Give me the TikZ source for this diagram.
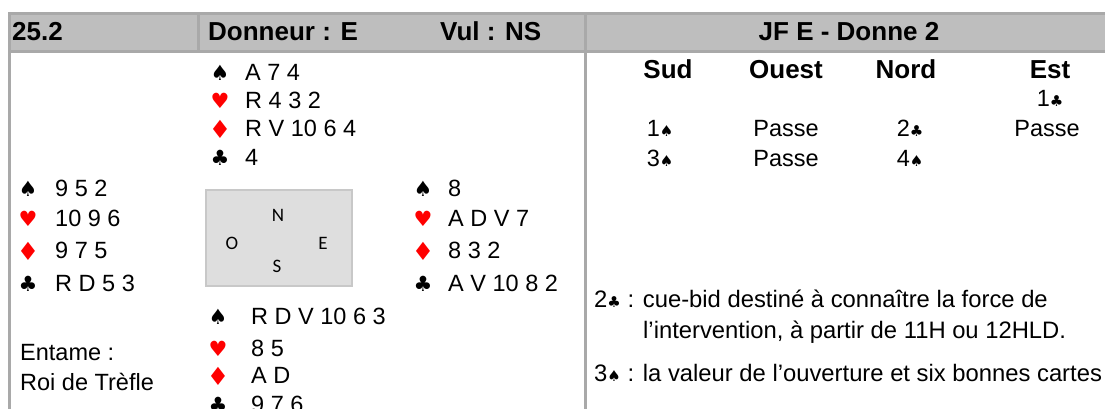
\documentclass[tikz,border=0pt]{standalone}
\usepackage{fontspec}
\setmainfont{Liberation Sans}
\newfontfamily\suitfont{DejaVu Sans}
\newfontfamily\calfont{Carlito}
\definecolor{hdrfill}{HTML}{BEBEBE}
\definecolor{hdrline}{HTML}{A9A9A9}
\definecolor{boxfill}{HTML}{DEDEDE}
\definecolor{boxline}{HTML}{C8C8C8}
\definecolor{suitred}{HTML}{FF0000}
\newcommand{\bs}[1]{{\suitfont\fontsize{15}{17}\selectfont #1}}
\begin{document}
\begin{tikzpicture}[x=1pt,y=-1pt,
  hand/.style={font=\fontsize{23.5}{27}\selectfont, anchor=base west, inner sep=0pt},
  suit/.style={font=\suitfont\fontsize{21}{24}\selectfont, anchor=center, inner sep=0pt},
  redsuit/.style={suit, text=suitred},
  diam/.style={redsuit, font=\suitfont\fontsize{25}{28}\selectfont},
  hdr/.style={font=\bfseries\fontsize{26}{30}\selectfont, anchor=base west, inner sep=0pt},
  bidhdr/.style={font=\bfseries\fontsize{26}{30}\selectfont, anchor=base, inner sep=0pt},
  bid/.style={font=\fontsize{23.5}{27}\selectfont, anchor=base, inner sep=0pt},
  expl/.style={font=\fontsize{23.8}{27}\selectfont, anchor=base west, inner sep=0pt},
  compass/.style={font=\calfont\fontsize{19}{21}\selectfont, inner sep=0pt},
  rule/.style={draw=hdrline, line width=3pt}]
\useasboundingbox (0,0) rectangle (1105,409);
% header band
\fill[hdrfill] (8,12) rectangle (1105,53);
\draw[rule] (8,13.5) -- (1105,13.5);
\draw[rule] (8,51.5) -- (1105,51.5);
\draw[rule] (9.5,12) -- (9.5,409);
\draw[rule] (198.5,12) -- (198.5,53);
\draw[rule] (585.5,12) -- (585.5,409);
% header texts
\node[hdr] (num) at (12,41) {25.2};
\node[hdr] (donneur) at (208,41) {Donneur : E};
\node[hdr] (vul) at (440,41) {Vul : NS};
\node[bidhdr] (titre) at (849,41) {JF E - Donne 2};
% North
\node[suit] (ns) at (220,73) {♠};
\node[redsuit] (nh) at (220,101) {♥};
\node[diam] (nd) at (220,129) {♦};
\node[suit] (nc) at (220,158) {♣};
\node[hand] (nst) at (245,80.5) {A 7 4};
\node[hand] (nht) at (245,108.5) {R 4 3 2};
\node[hand] (ndt) at (245,136.5) {R V 10 6 4};
\node[hand] (nct) at (245,165.5) {4};
% West
\node[suit] (ws) at (28,189) {♠};
\node[redsuit] (wh) at (28,219) {♥};
\node[diam] (wd) at (28,251) {♦};
\node[suit] (wc) at (28,284) {♣};
\node[hand] (wst) at (55,196.5) {9 5 2};
\node[hand] (wht) at (55,226.5) {10 9 6};
\node[hand] (wdt) at (55,258.5) {9 7 5};
\node[hand] (wct) at (55,291.5) {R D 5 3};
% East
\node[suit] (es) at (423,189) {♠};
\node[redsuit] (eh) at (423,219) {♥};
\node[diam] (ed) at (423,251) {♦};
\node[suit] (ec) at (423,284) {♣};
\node[hand] (est) at (448,196.5) {8};
\node[hand] (eht) at (448,226.5) {A D V 7};
\node[hand] (edt) at (448,258.5) {8 3 2};
\node[hand] (ect) at (448,291.5) {A V 10 8 2};
% South
\node[suit] (ss) at (218,317) {♠};
\node[redsuit] (sh) at (218,349) {♥};
\node[diam] (sd) at (218,376) {♦};
\node[suit] (sc) at (218,405) {♣};
\node[hand] (sst) at (251,324.5) {R D V 10 6 3};
\node[hand] (sht) at (251,356.5) {8 5};
\node[hand] (sdt) at (251,383.5) {A D};
\node[hand] (sct) at (251,412.5) {9 7 6};
% compass box
\node[draw=boxline, fill=boxfill, line width=1.5pt, minimum width=146pt, minimum height=96pt, inner sep=0pt] (table) at (279,238) {};
\node[compass] (cn) at (278,215) {N};
\node[compass] (co) at (232,243) {O};
\node[compass] (ce) at (323,243) {E};
\node[compass] (cs) at (277,266) {S};
% lead
\node[hand] (ent1) at (20,360) {Entame :};
\node[hand] (ent2) at (20,390) {Roi de Trèfle};
% bidding
\node[bidhdr] (hsud) at (668,79) {Sud};
\node[bidhdr] (houest) at (786,79) {Ouest};
\node[bidhdr] (hnord) at (906,79) {Nord};
\node[bidhdr] (hest) at (1050,79) {Est};
\node[bid] (b1) at (1050,106.5) {1\bs{♣}};
\node[bid] (b2) at (660,136.5) {1\bs{♠}};
\node[bid] (b3) at (786,136.5) {Passe};
\node[bid] (b4) at (910,136.5) {2\bs{♣}};
\node[bid] (b5) at (1047,136.5) {Passe};
\node[bid] (b6) at (660,166.5) {3\bs{♠}};
\node[bid] (b7) at (786,166.5) {Passe};
\node[bid] (b8) at (910,166.5) {4\bs{♠}};
% explanations
\node[expl] (x1) at (594,307.5) {2\bs{♣} : cue-bid destiné à connaître la force de};
\node[expl] (x2) at (643,338.5) {l’intervention, à partir de 11H ou 12HLD.};
\node[expl] (x3) at (594,381.5) {3\bs{♠} : la valeur de l’ouverture et six bonnes cartes};
\end{tikzpicture}
\end{document}
